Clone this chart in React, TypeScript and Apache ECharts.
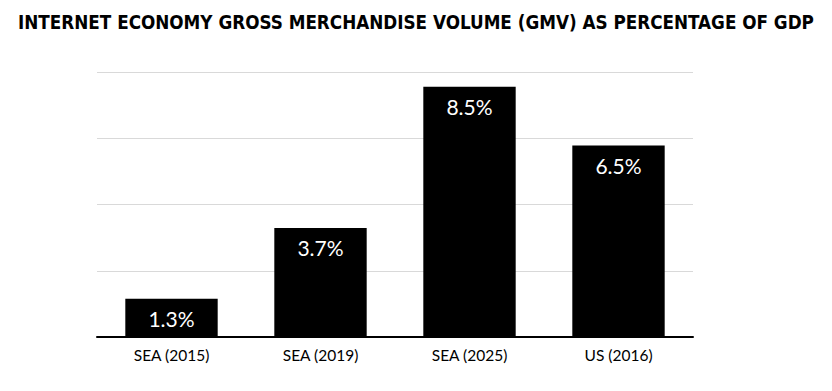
import React, { useEffect, useRef } from "react";
import * as echarts from "echarts";

const categories = ["SEA (2015)", "SEA (2019)", "SEA (2025)", "US (2016)"];
const values = [1.3, 3.7, 8.5, 6.5];
const titleText = "INTERNET ECONOMY GROSS MERCHANDISE VOLUME (GMV) AS PERCENTAGE OF GDP";

export default function App() {
  const ref = useRef<HTMLDivElement>(null);
  useEffect(() => {
    document.body.style.margin = "0";
    const chart = echarts.init(ref.current!, null, { renderer: "svg" });
    chart.setOption({
      animation: false,
      backgroundColor: "#ffffff",
      title: {
        text: titleText,
        left: "center",
        top: 8,
        textStyle: {
          fontFamily: "DejaVu Sans Condensed",
          fontWeight: "bold",
          fontSize: 18.7,
          color: "#000",
        },
      },
      grid: { left: 97, right: 139, top: 72, bottom: 54 },
      xAxis: {
        type: "category",
        data: categories,
        axisLine: { lineStyle: { color: "#000", width: 2 } },
        axisTick: { show: false },
        axisLabel: { color: "#000", fontSize: 15.5, fontFamily: "Lato", margin: 10 },
      },
      yAxis: {
        type: "value",
        min: 0,
        max: 9,
        interval: 2.25,
        axisLabel: { show: false },
        axisLine: { show: false },
        axisTick: { show: false },
        splitLine: { lineStyle: { color: "#d9d9d9", width: 1 } },
      },
      series: [
        {
          type: "bar",
          data: values,
          barWidth: "62%",
          itemStyle: { color: "#000" },
          label: {
            show: true,
            position: "insideTop",
            distance: 9,
            color: "#fff",
            fontSize: 21,
            fontFamily: "Lato",
            formatter: (p: any) => p.value.toFixed(1) + "%",
          },
        },
      ],
    });
    return () => chart.dispose();
  }, []);
  return <div ref={ref} style={{ width: 832, height: 391 }} />;
}
